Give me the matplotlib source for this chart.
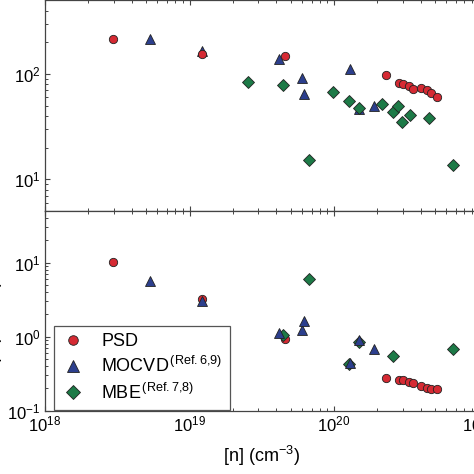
import matplotlib
matplotlib.use("Agg")
import matplotlib.pyplot as plt
from matplotlib.ticker import LogLocator, NullFormatter

plt.rcParams['font.family'] = ['Liberation Sans', 'DejaVu Sans']
plt.rcParams['mathtext.fontset'] = 'custom'
plt.rcParams['mathtext.rm'] = 'Liberation Sans'
plt.rcParams['mathtext.it'] = 'Liberation Sans:italic'

# top panel: mobility vs carrier density
psd_n_top = [2.94e18, 1.23e19, 4.58e19, 2.29e20, 2.83e20, 3.02e20, 3.29e20, 3.50e20,
             3.98e20, 4.38e20, 4.67e20, 5.14e20]
psd_mu = [214, 154, 148, 97, 82.7, 79.8, 76.4, 72, 73.6, 70.8, 66.3, 60.4]

mocvd_n_top = [5.36e18, 1.23e19, 4.16e19, 5.97e19, 6.2e19, 1.29e20, 1.50e20, 1.89e20]
mocvd_mu = [216, 164, 139, 91, 64, 112, 46.4, 49.9]

mbe_n_top = [2.55e19, 4.46e19, 6.75e19, 9.9e19, 1.26e20, 1.50e20, 2.15e20, 2.57e20,
             2.79e20, 2.97e20, 3.36e20, 4.54e20, 6.67e20]
mbe_mu = [84, 78, 15.2, 67, 55, 47.7, 52, 43.5, 49.6, 34.9, 40.7, 38.1, 13.6]

# bottom panel: resistivity vs carrier density
psd_n_bot = [2.94e18, 1.23e19, 4.58e19, 2.29e20, 2.83e20, 3.02e20, 3.29e20, 3.50e20,
             3.98e20, 4.38e20, 4.67e20, 5.14e20]
psd_rho = [10.1, 3.27, 0.925, 0.275, 0.262, 0.256, 0.245, 0.238, 0.212, 0.201, 0.197, 0.197]

mocvd_n_bot = [5.36e18, 1.23e19, 4.16e19, 5.97e19, 6.2e19, 1.29e20, 1.50e20, 1.89e20]
mocvd_rho = [5.64, 3.07, 1.105, 1.21, 1.61, 0.44, 0.90, 0.68]

mbe_n_bot = [4.46e19, 6.75e19, 1.26e20, 1.50e20, 2.57e20, 6.67e20]
mbe_rho = [1.05, 6.0, 0.42, 0.84, 0.54, 0.68]

red = '#d52a33'
blue = '#2c3f8d'
green = '#1d7a47'
edge = '#222222'

fig = plt.figure(figsize=(4.74, 4.74), dpi=100)
W, H = 474.0, 474.0
left = 45 / W
width = 433.5 / W
ax1 = fig.add_axes([left, 1 - 211 / H, width, 210.5 / H])
ax2 = fig.add_axes([left, 1 - 410.5 / H, width, 199.5 / H])

for ax in (ax1, ax2):
    ax.set_xscale('log')
    ax.set_yscale('log')
    ax.set_xlim(1e18, 1e21)
    ax.xaxis.set_major_locator(LogLocator(base=10, numticks=10))
    ax.xaxis.set_minor_locator(LogLocator(base=10, subs=range(2, 10), numticks=20))
    ax.yaxis.set_minor_locator(LogLocator(base=10, subs=range(2, 10), numticks=20))
    ax.xaxis.set_minor_formatter(NullFormatter())
    ax.yaxis.set_minor_formatter(NullFormatter())
    ax.tick_params(which='both', direction='in', top=True, right=True,
                   color='#444444', labelsize=12, pad=3)
    ax.tick_params(which='major', length=3.8, width=0.8)
    ax.tick_params(which='minor', length=2.4, width=0.7)
    for s in ax.spines.values():
        s.set_color('#444444')
        s.set_linewidth(0.9)

ms_c, ms_t, ms_d = 6, 7, 5.8
ax1.plot(mbe_n_top, mbe_mu, 'D', ms=ms_d, color=green, mec=edge, mew=0.6, ls='none', zorder=3)
ax1.plot(mocvd_n_top, mocvd_mu, '^', ms=ms_t, color=blue, mec=edge, mew=0.6, ls='none', zorder=2)
ax1.plot(psd_n_top, psd_mu, 'o', ms=ms_c, color=red, mec=edge, mew=0.6, ls='none', zorder=2.5)
ax1.set_ylim(5, 500)
ax1.tick_params(axis='x', labelbottom=False)

ax2.plot(psd_n_bot, psd_rho, 'o', ms=ms_c, color=red, mec=edge, mew=0.6, ls='none',
         label='PSD', zorder=2)
ax2.plot(mocvd_n_bot, mocvd_rho, '^', ms=ms_t, color=blue, mec=edge, mew=0.6, ls='none',
         label=r'MOCVD$^{\mathrm{\,(Ref.6{,}9)}}$', zorder=3)
ax2.plot(mbe_n_bot, mbe_rho, 'D', ms=ms_d, color=green, mec=edge, mew=0.6, ls='none',
         label=r'MBE$^{\mathrm{\,(Ref.7{,}8)}}$', zorder=2.5)
ax2.set_ylim(0.1, 50)
ax2.set_xlabel(r'[n] (cm$^{-3}$)', fontsize=13, labelpad=7)

leg = ax2.legend(loc='lower left', bbox_to_anchor=(0.021, 0.003), fontsize=13,
                 fancybox=False, framealpha=1, edgecolor='#555555', markerscale=1.15,
                 handletextpad=0.9, borderpad=0.4, labelspacing=0.35, handlelength=1.3,
                 borderaxespad=0)
leg.get_frame().set_linewidth(0.9)

# y labels sit mostly outside the cropped canvas
fig.text(4 / W, 1 - 113 / H, r'$\mu_e$ (cm$^2$/Vs)', rotation=90, ha='right',
         va='center', fontsize=13)
fig.text(4 / W, 1 - 320 / H, r'$\rho$ (m$\Omega$cm)', rotation=90, ha='right',
         va='center', fontsize=13)

fig.savefig('out.png', dpi=100)
